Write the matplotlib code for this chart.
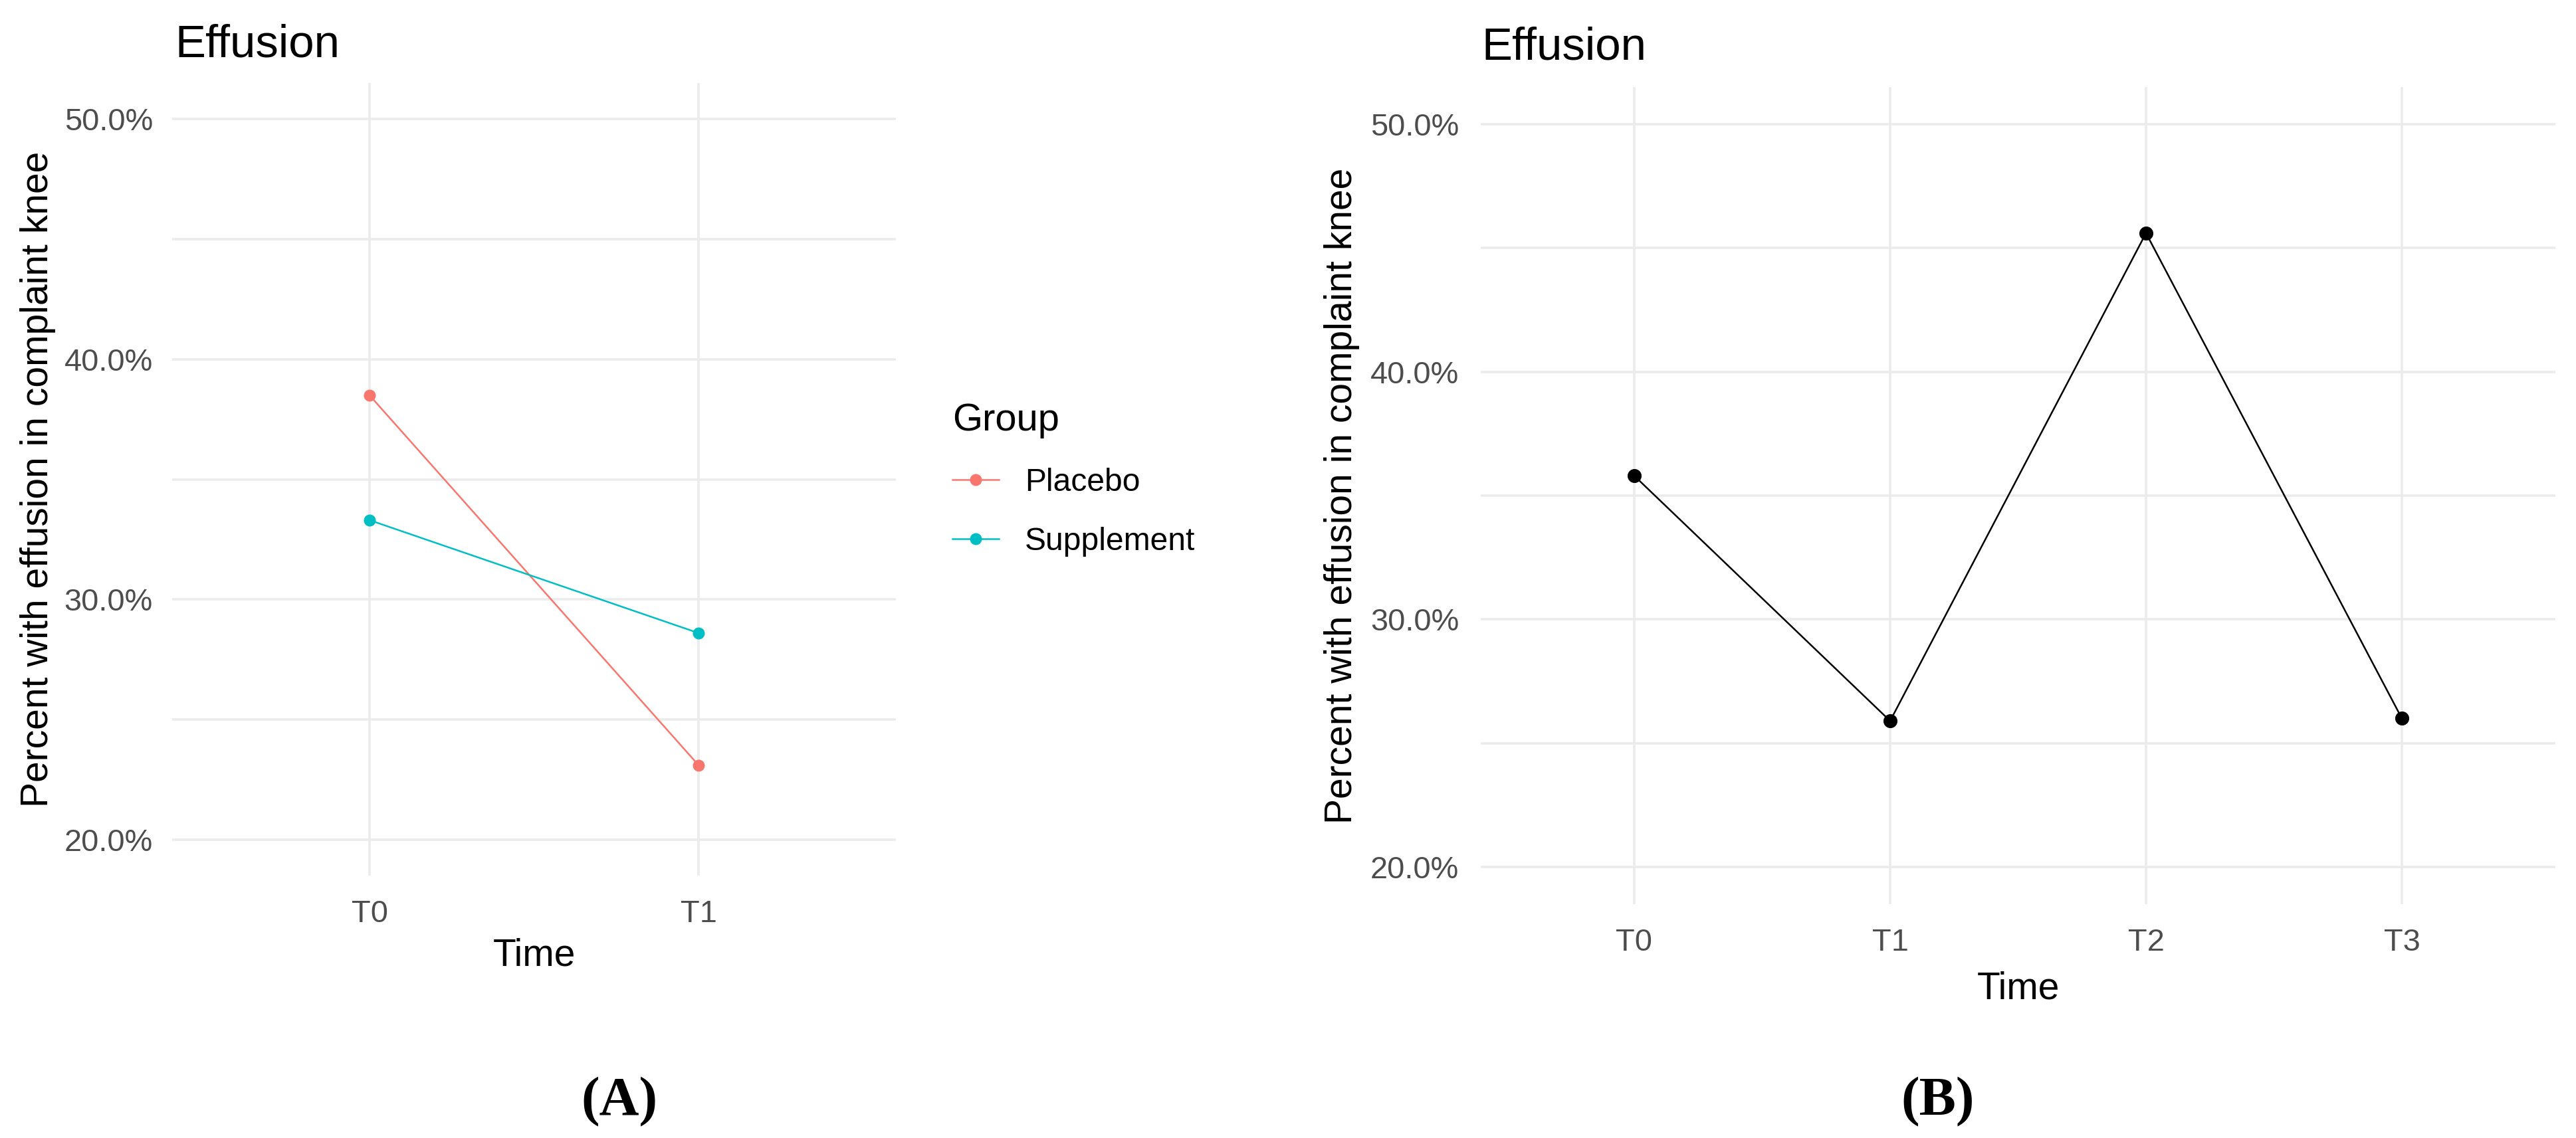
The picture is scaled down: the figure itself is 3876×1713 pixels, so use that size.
import matplotlib
matplotlib.use('Agg')
import matplotlib.pyplot as plt
from matplotlib.ticker import PercentFormatter, FixedLocator

# data
times_a = ['T0', 'T1']
placebo = [0.385, 0.231]
supplement = [0.333, 0.286]

times_b = ['T0', 'T1', 'T2', 'T3']
overall = [0.358, 0.259, 0.456, 0.260]

major_y = [0.2, 0.3, 0.4, 0.5]
minor_y = [0.25, 0.35, 0.45]

W, H = 3876, 1713
DPI = 72
plt.rcParams['font.family'] = ['Liberation Sans', 'DejaVu Sans']

grid_col = '#EBEBEB'
tick_col = '#4D4D4D'
red = '#F8766D'
teal = '#00BFC4'

fig = plt.figure(figsize=(W / DPI, H / DPI), dpi=DPI, facecolor='white')


def px_axes(left, top, right, bottom):
    return fig.add_axes([left / W, (H - bottom) / H, (right - left) / W, (bottom - top) / H])


def style(ax, ytick_pad):
    ax.set_ylim(0.185, 0.515)
    ax.yaxis.set_major_locator(FixedLocator(major_y))
    ax.yaxis.set_minor_locator(FixedLocator(minor_y))
    ax.yaxis.set_major_formatter(PercentFormatter(xmax=1, decimals=1))
    for s in ax.spines.values():
        s.set_visible(False)
    ax.set_axisbelow(True)
    ax.grid(True, which='major', color=grid_col, linewidth=3.5)
    ax.grid(True, which='minor', axis='y', color=grid_col, linewidth=3.5)
    ax.tick_params(axis='both', which='both', length=0)
    ax.tick_params(axis='y', labelsize=47, labelcolor=tick_col, pad=ytick_pad)
    ax.tick_params(axis='x', labelsize=47, labelcolor=tick_col, pad=36)


# panel A
axA = px_axes(259, 125, 1348, 1318)
lp, = axA.plot(times_a, placebo, color=red, linewidth=2.5, marker='o', markersize=17, label='Placebo')
ls, = axA.plot(times_a, supplement, color=teal, linewidth=2.5, marker='o', markersize=17, label='Supplement')
axA.set_xlim(-0.6, len(times_a) - 1 + 0.6)
style(axA, 29)
axA.set_xlabel('Time', fontsize=57)
axA.xaxis.label.set_va('baseline')
axA.xaxis.set_label_coords(0.5, (1318 - 1454) / (1318 - 125))
axA.set_ylabel('Percent with effusion in complaint knee', fontsize=57)
axA.yaxis.label.set_va('center')
axA.yaxis.set_label_coords((57 - 259) / (1348 - 259), 0.5)

leg = axA.legend(handles=[lp, ls], title='Group', loc='center left',
                 bbox_to_anchor=(1433 / W, (H - 722) / H), bbox_transform=fig.transFigure,
                 frameon=False, fontsize=48, title_fontsize=58, handlelength=1.46,
                 handletextpad=0.81, labelspacing=0.92, borderpad=0, borderaxespad=0,
                 alignment='left')

# panel B
axB = px_axes(2228, 131, 3845, 1361)
axB.plot(times_b, overall, color='black', linewidth=2.5, marker='o', markersize=20)
axB.set_xlim(-0.6, len(times_b) - 1 + 0.6)
style(axB, 33)
axB.set_xlabel('Time', fontsize=57)
axB.xaxis.label.set_va('baseline')
axB.xaxis.set_label_coords(0.5, (1361 - 1503) / (1361 - 131))
axB.set_ylabel('Percent with effusion in complaint knee', fontsize=57)
axB.yaxis.label.set_va('center')
axB.yaxis.set_label_coords((2019 - 2228) / (3845 - 2228), 0.5)

# titles
fig.text(263 / W, (H - 85) / H, 'Effusion', fontsize=69, ha='left', va='baseline')
fig.text(2229 / W, (H - 90) / H, 'Effusion', fontsize=69, ha='left', va='baseline')

# panel letters
for xc, letter in [(932, 'A'), (2916, 'B')]:
    fig.text(xc / W, (H - 1678) / H, '(' + letter + ')', fontsize=83, ha='center', va='baseline',
             family=['Liberation Serif', 'DejaVu Serif'], fontweight='bold')

fig.savefig('out.png', dpi=DPI, facecolor='white')
